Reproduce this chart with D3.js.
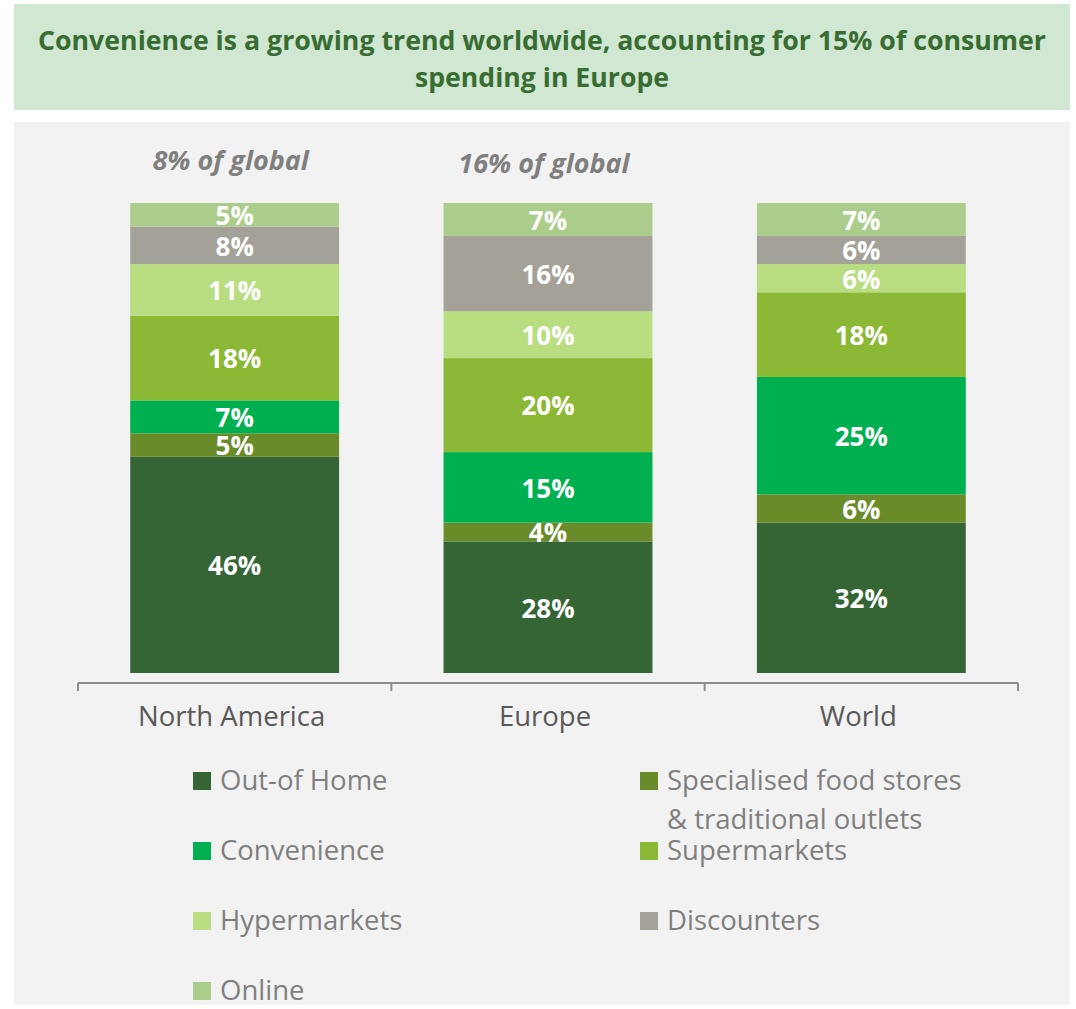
<!DOCTYPE html>
<html>
<head>
<meta charset="utf-8">
<script src="https://cdn.jsdelivr.net/npm/d3@7"></script>
<style>
  html, body { margin: 0; padding: 0; background: #ffffff; }
  svg { display: block; }
</style>
</head>
<body>
<svg id="chart" width="1076" height="1009"></svg>
<script>
// Regions shown as stacked bars (share of convenience-related spending, %)
const regions = ["North America", "Europe", "World"];
const channels = ["Out-of Home", "Specialised food stores & traditional outlets", "Convenience",
                  "Supermarkets", "Hypermarkets", "Discounters", "Online"];
const outOfHome   = [46, 28, 32];
const specialised = [5, 4, 6];
const convenience = [7, 15, 25];
const supermarkets = [18, 20, 18];
const hypermarkets = [11, 10, 6];
const discounters = [8, 16, 6];
const online      = [5, 7, 7];
const globalShare = ["8% of global", "16% of global", null];
const colors = ["#356535", "#6a8b2a", "#00b050", "#8cb935", "#b9dd81", "#a4a199", "#abcd8c"];

const seriesValues = [outOfHome, specialised, convenience, supermarkets, hypermarkets, discounters, online];

const svg = d3.select("#chart");

// Title banner
svg.append("rect").attr("x", 14).attr("y", 4).attr("width", 1056).attr("height", 106)
  .attr("fill", "#d0e7d1");
const titleLines = ["Convenience is a growing trend worldwide, accounting for 15% of consumer",
                    "spending in Europe"];
const titleWidths = [1008, 254];
svg.selectAll("text.title").data(titleLines).join("text")
  .attr("class", "title")
  .attr("x", 542).attr("y", (d, i) => 50 + i * 37)
  .attr("text-anchor", "middle")
  .attr("textLength", (d, i) => titleWidths[i])
  .attr("lengthAdjust", "spacingAndGlyphs")
  .attr("font-family", "'Open Sans', 'Noto Sans', sans-serif")
  .attr("font-weight", "bold").attr("font-size", 27)
  .attr("fill", "#386c32")
  .text(d => d);

// Chart panel
svg.append("rect").attr("x", 14).attr("y", 122).attr("width", 1056).attr("height", 883)
  .attr("fill", "#f2f2f2");

const x = d3.scaleBand().domain(regions).range([78, 1018]).paddingInner(1 / 3).paddingOuter(1 / 6);
const y = d3.scaleLinear().domain([0, 100]).range([673, 203]);

// Build stacked data
const table = regions.map((r, i) => {
  const row = { region: r };
  channels.forEach((c, k) => row[c] = seriesValues[k][i]);
  return row;
});
const stacked = d3.stack().keys(channels)(table);

const layers = svg.append("g").selectAll("g").data(stacked).join("g")
  .attr("fill", (d, i) => colors[i]);

layers.selectAll("rect").data(d => d).join("rect")
  .attr("x", d => x(d.data.region))
  .attr("width", x.bandwidth())
  .attr("y", d => y(d[1]))
  .attr("height", d => y(d[0]) - y(d[1]));

layers.selectAll("text").data(d => d.map(v => ({ v, key: d.key }))).join("text")
  .attr("x", d => x(d.v.data.region) + x.bandwidth() / 2)
  .attr("y", d => (y(d.v[0]) + y(d.v[1])) / 2 + 1)
  .attr("dy", "0.36em")
  .attr("text-anchor", "middle")
  .attr("font-family", "'Open Sans', 'Noto Sans', sans-serif")
  .attr("font-weight", "bold").attr("font-size", 26)
  .attr("fill", "#ffffff")
  .text(d => d.v.data[d.key] + "%");

// Category axis: baseline with ticks between categories
const axisY = 683;
const step = x.step();
const axisG = svg.append("g");
const tickXs = [78].concat(regions.slice(0, -1).map(r => x(r) + x.bandwidth() + step * x.paddingInner() / 2), [1018]);
axisG.append("line").attr("x1", 78).attr("x2", 1018).attr("y1", axisY).attr("y2", axisY)
  .attr("stroke", "#8c8c8c").attr("stroke-width", 2);
axisG.selectAll("line.tick").data(tickXs).join("line").attr("class", "tick")
  .attr("x1", d => d).attr("x2", d => d).attr("y1", axisY).attr("y2", axisY + 8)
  .attr("stroke", "#8c8c8c").attr("stroke-width", 2);
axisG.selectAll("text").data(regions).join("text")
  .attr("x", d => x(d) + x.bandwidth() / 2 - 3)
  .attr("y", 726)
  .attr("text-anchor", "middle")
  .attr("font-family", "'Open Sans', 'Noto Sans', sans-serif")
  .attr("font-size", 27.5)
  .attr("fill", "#595959")
  .text(d => d);

// Share-of-global annotations above bars
svg.append("g").selectAll("text").data(regions.map((r, i) => ({ r, t: globalShare[i] })).filter(d => d.t))
  .join("text")
  .attr("x", d => x(d.r) + x.bandwidth() / 2 - 4)
  .attr("y", (d, i) => 170 + i * 3)
  .attr("text-anchor", "middle")
  .attr("font-family", "'Open Sans', 'Noto Sans', sans-serif")
  .attr("font-weight", "bold").attr("font-style", "italic").attr("font-size", 27)
  .attr("fill", "#7f7f7f")
  .text(d => d.t);

// Legend in two columns
const legendItems = [
  { i: 0, col: 0, row: 0, lines: ["Out-of Home"] },
  { i: 1, col: 1, row: 0, lines: ["Specialised food stores", "& traditional outlets"] },
  { i: 2, col: 0, row: 1, lines: ["Convenience"] },
  { i: 3, col: 1, row: 1, lines: ["Supermarkets"] },
  { i: 4, col: 0, row: 2, lines: ["Hypermarkets"] },
  { i: 5, col: 1, row: 2, lines: ["Discounters"] },
  { i: 6, col: 0, row: 3, lines: ["Online"] }
];
const colX = [193, 640];
const legend = svg.append("g").selectAll("g").data(legendItems).join("g")
  .attr("transform", d => `translate(${colX[d.col]},${772 + d.row * 70})`);
legend.append("rect").attr("width", 18).attr("height", 18).attr("fill", d => colors[d.i]);
legend.each(function (d) {
  d3.select(this).selectAll("text").data(d.lines).join("text")
    .attr("x", 27).attr("y", (t, k) => 18 + k * 39)
    .attr("font-family", "'Open Sans', 'Noto Sans', sans-serif")
    .attr("font-size", 27.5)
    .attr("fill", "#7f7f7f")
    .text(t => t);
});
</script>
</body>
</html>
